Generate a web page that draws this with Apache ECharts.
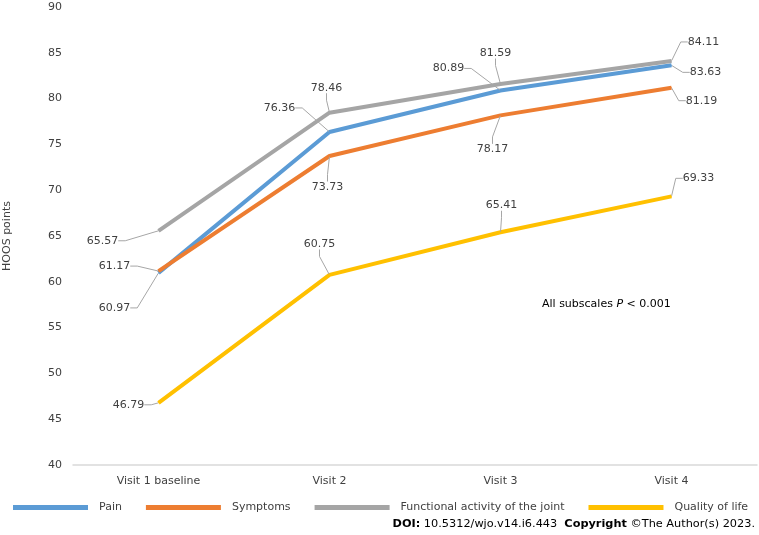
<!DOCTYPE html>
<html>
<head>
<meta charset="utf-8">
<script src="https://cdn.jsdelivr.net/npm/echarts@6/dist/echarts.min.js"></script>
<style>
  html, body { margin: 0; padding: 0; background: #fff; }
  #chart { width: 759px; height: 535px; }
</style>
</head>
<body>
<div id="chart"></div>
<script>
// 数据
var categories = ['Visit 1 baseline', 'Visit 2', 'Visit 3', 'Visit 4'];
var pain = [60.97, 76.36, 80.89, 83.63];
var symptoms = [61.17, 73.73, 78.17, 81.19];
var functional = [65.57, 78.46, 81.59, 84.11];
var qualityOfLife = [46.79, 60.75, 65.41, 69.33];

// 标签偏移 (dx, dy)，按系列顺序
var labelOffsets = [
    [[-44, 35], [-50, -24], [-52, -22], [34, 7]],
    [[-44, -5], [-2, 31], [-8, 34], [30, 13]],
    [[-56, 10], [-3, -25], [-5, -31], [32, -19]],
    [[-30, 2], [-10, -31], [1, -27], [27, -18]]
];

var fontFamily = "'DejaVu Sans', Tahoma, sans-serif";
var textColor = '#404040';

function makeSeries(name, data, color) {
    return {
        name: name,
        type: 'line',
        data: data,
        symbol: 'circle',
        symbolSize: 1,
        itemStyle: { color: color },
        lineStyle: { width: 4, color: color },
        label: {
            show: true,
            position: 'inside',
            color: textColor,
            fontFamily: fontFamily,
            fontSize: 11,
            formatter: function (p) { return p.value.toFixed(2); }
        },
        labelLine: {
            show: true,
            length2: 7,
            lineStyle: { color: '#A6A6A6', width: 1 }
        },
        labelLayout: function (params) {
            var off = labelOffsets[params.seriesIndex][params.dataIndex];
            return { dx: off[0], dy: off[1] };
        },
        emphasis: { disabled: true }
    };
}

var myChart = echarts.init(document.getElementById('chart'));
var option = {
    animation: false,
    textStyle: { fontFamily: fontFamily },
    grid: { left: 73, right: 2, top: 7, bottom: 70, containLabel: false, outerBoundsMode: 'none' },
    legend: {
        left: 8,
        top: 497,
        icon: 'rect',
        itemWidth: 75,
        itemHeight: 5,
        itemGap: 24,
        textStyle: { color: textColor, fontSize: 11, fontFamily: fontFamily, padding: [0, 0, 0, 6] },
        data: ['Pain', 'Symptoms', 'Functional activity of the joint', 'Quality of life']
    },
    xAxis: {
        type: 'category',
        data: categories,
        axisLine: { lineStyle: { color: '#D9D9D9', width: 1.5 } },
        axisTick: { show: false },
        axisLabel: { color: textColor, fontSize: 11, fontFamily: fontFamily, margin: 11 }
    },
    yAxis: {
        type: 'value',
        min: 40,
        max: 90,
        interval: 5,
        name: 'HOOS points',
        nameLocation: 'middle',
        nameGap: 60,
        nameTextStyle: { color: textColor, fontSize: 11, fontFamily: fontFamily },
        axisLine: { show: false },
        axisTick: { show: false },
        splitLine: { show: false },
        axisLabel: { color: textColor, fontSize: 11, fontFamily: fontFamily, margin: 11 }
    },
    graphic: [
        {
            type: 'text',
            left: 542,
            top: 299,
            style: {
                text: 'All subscales {i|P} < 0.001',
                fill: '#000',
                font: "11px 'DejaVu Sans', sans-serif",
                rich: { i: { fontStyle: 'italic', fontSize: 11, fontFamily: fontFamily, fill: '#000' } }
            }
        },
        {
            type: 'text',
            right: 4,
            top: 519,
            style: {
                text: '{b|DOI:} 10.5312/wjo.v14.i6.443  {b|Copyright} ©The Author(s) 2023.',
                fill: '#000',
                font: "11.3px 'DejaVu Sans', sans-serif",
                rich: { b: { fontWeight: 'bold', fontSize: 11.3, fontFamily: fontFamily, fill: '#000' } }
            }
        }
    ],
    series: [
        makeSeries('Pain', pain, '#5B9BD5'),
        makeSeries('Symptoms', symptoms, '#ED7D31'),
        makeSeries('Functional activity of the joint', functional, '#A5A5A5'),
        makeSeries('Quality of life', qualityOfLife, '#FFC000')
    ]
};
myChart.setOption(option);
</script>
</body>
</html>
